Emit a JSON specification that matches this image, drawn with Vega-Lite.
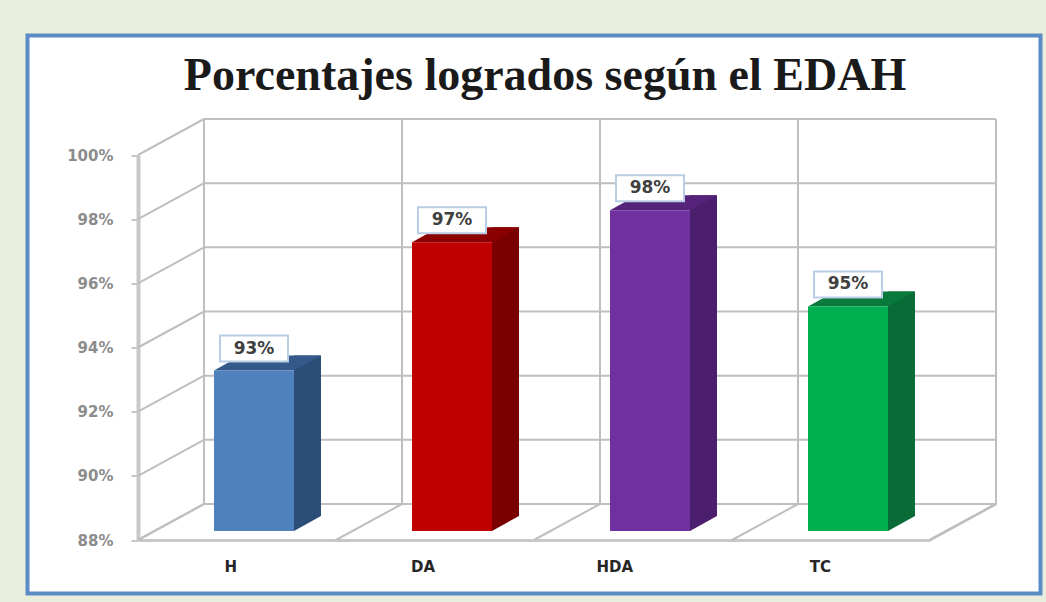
{
  "$schema": "https://vega.github.io/schema/vega-lite/v6.json",
  "width": 1013,
  "height": 558,
  "autosize": {"type": "none"},
  "padding": {"left": 27.5, "top": 35.5, "right": 5.5, "bottom": 8.5},
  "background": "#eaeedc",
  "config": {
    "view": {"fill": "white", "stroke": "#5b8cc6", "strokeWidth": 4}
  },
  "title": {
    "text": "Porcentajes logrados según el EDAH",
    "font": "Liberation Serif",
    "fontSize": 46,
    "fontWeight": "bold",
    "color": "#1a1a1a",
    "anchor": "middle",
    "frame": "group",
    "baseline": "alphabetic",
    "offset": -100,
    "dx": 11
  },
  "datasets": {
    "bars": [
      {"cat": "H", "v": 93, "label": "93%"},
      {"cat": "DA", "v": 97, "label": "97%"},
      {"cat": "HDA", "v": 98, "label": "98%"},
      {"cat": "TC", "v": 95, "label": "95%"}
    ],
    "grid": [{"v": 88}, {"v": 90}, {"v": 92}, {"v": 94}, {"v": 96}, {"v": 98}, {"v": 100}]
  },
  "resolve": {"scale": {"color": "independent"}},
  "layer": [
    {
      "data": {"name": "grid"},
      "mark": {"type": "rule", "color": "#bfbfbf", "strokeWidth": 2, "xOffset": 66, "x2Offset": 66, "yOffset": -36},
      "encoding": {
        "x": {"datum": "H", "type": "nominal", "bandPosition": 0, "scale": {"type": "band", "domain": ["H", "DA", "HDA", "TC"], "range": [110.5, 902.5], "paddingInner": 0, "paddingOuter": 0}},
        "x2": {"datum": "TC", "bandPosition": 1},
        "y": {"field": "v", "type": "quantitative", "title": null, "scale": {"domain": [88, 100], "range": [504.5, 119.5], "nice": false, "zero": false}}
      }
    },
    {
      "data": {"name": "grid"},
      "mark": {"type": "rule", "color": "#bfbfbf", "strokeWidth": 2, "x2Offset": 66, "y2Offset": -36},
      "encoding": {
        "x": {"datum": "H", "type": "nominal", "bandPosition": 0, "scale": {"type": "band", "domain": ["H", "DA", "HDA", "TC"], "range": [110.5, 902.5], "paddingInner": 0, "paddingOuter": 0}},
        "x2": {"datum": "H", "bandPosition": 0},
        "y": {"field": "v", "type": "quantitative", "title": null},
        "y2": {"field": "v"}
      }
    },
    {
      "data": {"name": "bars"},
      "mark": {"type": "rule", "color": "#bfbfbf", "strokeWidth": 2, "xOffset": 66, "yOffset": -36, "y2Offset": -36},
      "encoding": {
        "x": {"field": "cat", "type": "nominal", "bandPosition": 0, "title": null, "scale": {"type": "band", "domain": ["H", "DA", "HDA", "TC"], "range": [110.5, 902.5], "paddingInner": 0, "paddingOuter": 0}},
        "y": {"datum": 88, "type": "quantitative"},
        "y2": {"datum": 100}
      }
    },
    {
      "data": {"name": "bars"},
      "mark": {"type": "rule", "color": "#bfbfbf", "strokeWidth": 2, "xOffset": 66, "yOffset": -36, "y2Offset": -36},
      "encoding": {
        "x": {"datum": "TC", "type": "nominal", "bandPosition": 1, "scale": {"type": "band", "domain": ["H", "DA", "HDA", "TC"], "range": [110.5, 902.5], "paddingInner": 0, "paddingOuter": 0}},
        "y": {"datum": 88, "type": "quantitative"},
        "y2": {"datum": 100}
      }
    },
    {
      "data": {"name": "bars"},
      "mark": {"type": "rule", "color": "#bfbfbf", "strokeWidth": 2, "x2Offset": 66, "y2Offset": -36},
      "encoding": {
        "x": {"field": "cat", "type": "nominal", "bandPosition": 0, "title": null, "scale": {"type": "band", "domain": ["H", "DA", "HDA", "TC"], "range": [110.5, 902.5], "paddingInner": 0, "paddingOuter": 0}},
        "x2": {"field": "cat", "bandPosition": 0},
        "y": {"datum": 88, "type": "quantitative"},
        "y2": {"datum": 88}
      }
    },
    {
      "data": {"name": "bars"},
      "mark": {"type": "rule", "color": "#bfbfbf", "strokeWidth": 2, "x2Offset": 66, "y2Offset": -36},
      "encoding": {
        "x": {"datum": "TC", "type": "nominal", "bandPosition": 1, "scale": {"type": "band", "domain": ["H", "DA", "HDA", "TC"], "range": [110.5, 902.5], "paddingInner": 0, "paddingOuter": 0}},
        "x2": {"datum": "TC", "bandPosition": 1},
        "y": {"datum": 88, "type": "quantitative"},
        "y2": {"datum": 88}
      }
    },
    {
      "data": {"name": "bars"},
      "mark": {"type": "bar", "width": 27, "xOffset": 70.5, "yOffset": -24, "y2Offset": -24},
      "encoding": {
        "x": {"field": "cat", "type": "nominal", "title": null, "scale": {"type": "band", "domain": ["H", "DA", "HDA", "TC"], "range": [110.5, 902.5], "paddingInner": 0, "paddingOuter": 0}},
        "y": {"field": "v", "type": "quantitative", "title": null},
        "y2": {"datum": 88},
        "color": {"field": "cat", "type": "nominal", "legend": null, "scale": {"domain": ["H", "DA", "HDA", "TC"], "range": ["#2c4d75", "#7a0000", "#4b1e6e", "#096b35"]}}
      }
    },
    {
      "data": {"name": "bars"},
      "mark": {"type": "point", "filled": true, "opacity": 1, "strokeWidth": 0, "size": 6400, "shape": "M0,0L0,-0.375L0.675,-0.375Z", "xOffset": 57, "yOffset": -9},
      "encoding": {
        "x": {"field": "cat", "type": "nominal", "title": null, "scale": {"type": "band", "domain": ["H", "DA", "HDA", "TC"], "range": [110.5, 902.5], "paddingInner": 0, "paddingOuter": 0}},
        "y": {"datum": 88, "type": "quantitative"},
        "color": {"field": "cat", "type": "nominal", "legend": null, "scale": {"domain": ["H", "DA", "HDA", "TC"], "range": ["#2c4d75", "#7a0000", "#4b1e6e", "#096b35"]}}
      }
    },
    {
      "data": {"name": "bars"},
      "mark": {"type": "point", "filled": true, "opacity": 1, "strokeWidth": 0, "size": 6400, "shape": "M-1,0L1,0L1.675,-0.375L-0.325,-0.375Z", "xOffset": 17, "yOffset": -9},
      "encoding": {
        "x": {"field": "cat", "type": "nominal", "title": null, "scale": {"type": "band", "domain": ["H", "DA", "HDA", "TC"], "range": [110.5, 902.5], "paddingInner": 0, "paddingOuter": 0}},
        "y": {"field": "v", "type": "quantitative", "title": null},
        "color": {"field": "cat", "type": "nominal", "legend": null, "scale": {"domain": ["H", "DA", "HDA", "TC"], "range": ["#35598a", "#8a0000", "#55237a", "#0a7a3c"]}}
      }
    },
    {
      "data": {"name": "bars"},
      "mark": {"type": "bar", "width": 80, "xOffset": 17, "yOffset": -9, "y2Offset": -9},
      "encoding": {
        "x": {"field": "cat", "type": "nominal", "title": null,
          "scale": {"type": "band", "domain": ["H", "DA", "HDA", "TC"], "range": [110.5, 902.5], "paddingInner": 0, "paddingOuter": 0},
          "axis": {"offset": -53.5, "title": null, "labelAngle": 0, "ticks": false, "domainColor": "#c8c8c8", "domainWidth": 3, "labelPadding": 26, "labelFont": "DejaVu Sans", "labelFontSize": 15, "labelFontWeight": "bold", "labelColor": "#262626"}},
        "y": {"field": "v", "type": "quantitative", "title": null,
          "axis": {"offset": -110.5, "title": null, "grid": false, "values": [88, 90, 92, 94, 96, 98, 100], "labelExpr": "datum.value + '%'", "domainColor": "#c8c8c8", "domainWidth": 4, "tickColor": "#c8c8c8", "tickSize": 7, "tickWidth": 2, "labelPadding": 18, "labelFont": "DejaVu Sans", "labelFontSize": 15, "labelFontWeight": "bold", "labelColor": "#8c8c8c"}},
        "y2": {"datum": 88},
        "color": {"field": "cat", "type": "nominal", "legend": null, "scale": {"domain": ["H", "DA", "HDA", "TC"], "range": ["#4f81bd", "#c00000", "#7030a0", "#00b050"]}}
      }
    },
    {
      "data": {"name": "bars"},
      "mark": {"type": "point", "filled": true, "opacity": 1, "color": "white", "stroke": "#b9cde5", "strokeWidth": 2, "size": 6400, "shape": "M-0.85,-0.325L0.85,-0.325L0.85,0.325L-0.85,0.325Z", "xOffset": 17, "yOffset": -31},
      "encoding": {
        "x": {"field": "cat", "type": "nominal", "title": null, "scale": {"type": "band", "domain": ["H", "DA", "HDA", "TC"], "range": [110.5, 902.5], "paddingInner": 0, "paddingOuter": 0}},
        "y": {"field": "v", "type": "quantitative", "title": null}
      }
    },
    {
      "data": {"name": "bars"},
      "mark": {"type": "text", "font": "DejaVu Sans", "fontWeight": "bold", "fontSize": 17, "color": "#404040", "align": "center", "baseline": "middle", "xOffset": 17, "yOffset": -31},
      "encoding": {
        "x": {"field": "cat", "type": "nominal", "title": null, "scale": {"type": "band", "domain": ["H", "DA", "HDA", "TC"], "range": [110.5, 902.5], "paddingInner": 0, "paddingOuter": 0}},
        "y": {"field": "v", "type": "quantitative", "title": null},
        "text": {"field": "label", "type": "nominal"}
      }
    }
  ]
}
